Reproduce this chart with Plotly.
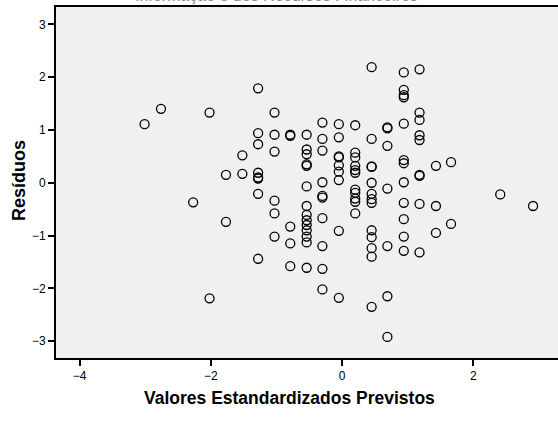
import plotly.graph_objects as go

# Predicted standardized values (x) and residuals (y)
valores_previstos = (
    [-3.01] + [-2.76] + [-2.27] + [-2.02] * 2 + [-1.77] * 2 + [-1.52] * 2
    + [-1.28] * 8 + [-1.03] * 6 + [-0.79] * 5 + [-0.54] * 14 + [-0.30] * 10
    + [-0.05] * 9 + [0.20] * 11 + [0.45] * 13 + [0.69] * 7 + [0.94] * 12
    + [1.18] * 9 + [1.43] * 3 + [1.66] * 2 + [2.41] + [2.91]
)
residuos = [
    1.11,
    1.40,
    -0.37,
    1.33, -2.19,
    0.15, -0.74,
    0.52, 0.17,
    1.79, 0.94, 0.73, 0.19, 0.08, 0.10, -0.21, -1.44,
    1.33, 0.91, 0.59, -0.34, -0.58, -1.02,
    0.89, 0.91, -0.83, -1.15, -1.58,
    0.91, 0.63, 0.54, 0.35, 0.32, -0.07, -0.44, -0.61, -0.71, -0.80, -0.90, -1.02, -1.13, -1.61,
    1.14, 0.83, 0.61, 0.01, -0.25, -0.28, -0.67, -1.20, -1.63, -2.02,
    1.11, 0.86, 0.48, 0.50, 0.33, 0.21, 0.05, -0.91, -2.18,
    1.09, 0.57, 0.48, 0.32, 0.24, 0.19, -0.13, -0.19, -0.30, -0.36, -0.58,
    2.19, 0.83, 0.30, 0.31, 0.00, -0.21, -0.31, -0.38, -0.90, -1.03, -1.24, -1.40, -2.35,
    1.03, 1.05, 0.70, -0.11, -1.20, -2.15, -2.92,
    2.09, 1.76, 1.66, 1.62, 1.12, 0.43, 0.37, 0.01, -0.38, -0.69, -1.02, -1.29,
    2.15, 1.33, 1.19, 0.90, 0.81, 0.13, 0.15, -0.40, -1.32,
    0.32, -0.44, -0.95,
    0.39, -0.78,
    -0.22,
    -0.44,
]

x_ticks = [-4, -2, 0, 2]
y_ticks = [-3, -2, -1, 0, 1, 2, 3]

titulo = "Informação e dos Recursos Financeiros"
titulo_x = "Valores Estandardizados Previstos"
titulo_y = "Resíduos"

n = min(len(valores_previstos), len(residuos))

fig = go.Figure(
    go.Scatter(
        x=valores_previstos[:n],
        y=residuos[:n],
        mode="markers",
        marker=dict(symbol="circle-open", size=9, color="black",
                    line=dict(width=1.3, color="black")),
        hoverinfo="x+y",
    )
)

font_family = "Liberation Sans, Arial, sans-serif"

fig.update_layout(
    width=558,
    height=421,
    margin=dict(l=56, r=0, t=7, b=63),
    paper_bgcolor="white",
    plot_bgcolor="#F0F0F0",
    showlegend=False,
    font=dict(family=font_family, size=12, color="black"),
    annotations=[
        dict(
            text=titulo,
            xref="paper", yref="paper",
            x=0.44, y=1.0, yshift=12,
            xanchor="center", yanchor="middle",
            showarrow=False,
            font=dict(family=font_family, size=16, color="#8a8a8a"),
        ),
        dict(
            text="<b>" + titulo_x + "</b>",
            xref="paper", yref="paper",
            x=0.466, y=-0.114,
            xanchor="center", yanchor="middle",
            showarrow=False,
            font=dict(family=font_family, size=17.5, color="black"),
        ),
        dict(
            text="<b>" + titulo_y + "</b>",
            xref="paper", yref="paper",
            x=-0.0737, y=0.504, textangle=-90,
            xanchor="center", yanchor="middle",
            showarrow=False,
            font=dict(family=font_family, size=18, color="black"),
        ),
    ],
)

fig.update_xaxes(
    range=[-4.36, 3.29],
    tickvals=x_ticks,
    ticks="outside", ticklen=6, tickwidth=2, tickcolor="black",
    showline=True, linewidth=2, linecolor="black", mirror=True,
    showgrid=False, zeroline=False,
    tickfont=dict(size=12),
)
fig.update_yaxes(
    range=[-3.32, 3.33],
    tickvals=y_ticks,
    ticks="outside", ticklen=6, tickwidth=2, tickcolor="black",
    showline=True, linewidth=2, linecolor="black", mirror=False,
    showgrid=False, zeroline=False,
    tickfont=dict(size=12),
)

fig.write_html("out.html")
